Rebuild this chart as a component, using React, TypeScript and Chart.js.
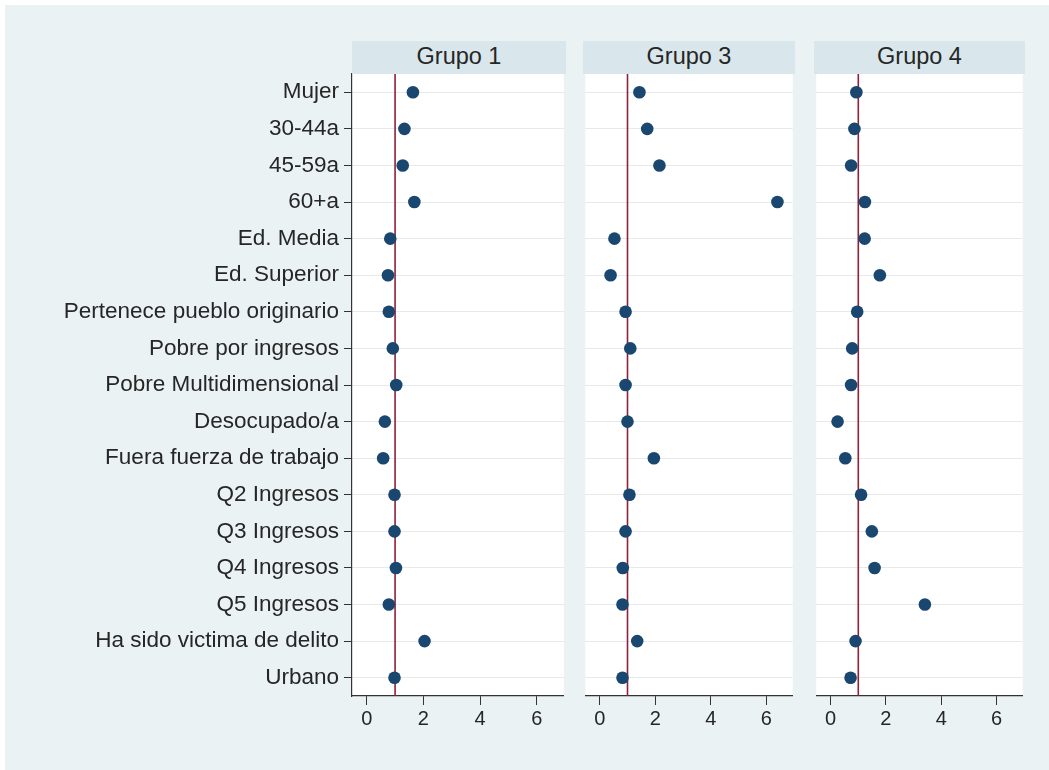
import React, { useEffect, useRef } from "react";
import { Chart, registerables } from "chart.js";

Chart.register(...registerables);

const categories = [
  "Mujer",
  "30-44a",
  "45-59a",
  "60+a",
  "Ed. Media",
  "Ed. Superior",
  "Pertenece pueblo originario",
  "Pobre por ingresos",
  "Pobre Multidimensional",
  "Desocupado/a",
  "Fuera fuerza de trabajo",
  "Q2 Ingresos",
  "Q3 Ingresos",
  "Q4 Ingresos",
  "Q5 Ingresos",
  "Ha sido victima de delito",
  "Urbano",
];

const panelTitles = ["Grupo 1", "Grupo 3", "Grupo 4"];

const grupo1 = [1.63, 1.33, 1.27, 1.68, 0.83, 0.75, 0.78, 0.92, 1.04, 0.64, 0.58, 0.98, 0.98, 1.03, 0.78, 2.04, 0.98];
const grupo3 = [1.43, 1.71, 2.15, 6.4, 0.53, 0.39, 0.93, 1.1, 0.93, 1.0, 1.95, 1.07, 0.93, 0.83, 0.82, 1.35, 0.82];
const grupo4 = [0.93, 0.86, 0.74, 1.24, 1.23, 1.78, 0.96, 0.78, 0.74, 0.25, 0.53, 1.1, 1.49, 1.59, 3.41, 0.9, 0.72];

const xTicks = [0, 2, 4, 6];
const referenceValue = 1;

const FONT = "'Liberation Sans', Arial, Helvetica, sans-serif";
const BG = "#EAF2F3";
const STRIP = "#D9E6EB";
const DOT = "#1A476F";
const REF = "#8E2138";
const TEXT = "#262626";
const AXIS = "#333333";

const whiteArea = {
  id: "whiteArea",
  beforeDraw(chart: any) {
    const { ctx, chartArea } = chart;
    ctx.save();
    ctx.fillStyle = "#ffffff";
    ctx.fillRect(chartArea.left, chartArea.top, chartArea.right - chartArea.left, chartArea.bottom - chartArea.top);
    ctx.restore();
  },
};

type PanelProps = {
  values: number[];
  title: string;
  showLabels: boolean;
  left: number;
  width: number;
  axisWidth: number;
  padLeft: number;
};

const CANVAS_TOP = 60;
const CANVAS_H = 700;
const PAD_TOP = 14;
const XAXIS_H = 64;

function Panel({ values, title, showLabels, left, width, axisWidth, padLeft }: PanelProps) {
  const ref = useRef<HTMLCanvasElement | null>(null);
  useEffect(() => {
    if (!ref.current) return;
    const chart = new Chart(ref.current, {
      type: "scatter",
      data: {
        datasets: [
          {
            data: values.map((v, i) => ({ x: v, y: i })),
            backgroundColor: DOT,
            borderColor: DOT,
            borderWidth: 0,
            pointRadius: 6.3,
            pointHoverRadius: 6.3,
            order: 0,
          },
          {
            type: "line",
            data: [
              { x: referenceValue, y: -0.5 },
              { x: referenceValue, y: categories.length - 0.5 },
            ],
            borderColor: REF,
            borderWidth: 1.6,
            pointRadius: 0,
            fill: false,
            order: 1,
          } as any,
        ],
      },
      options: {
        animation: false,
        responsive: false,
        maintainAspectRatio: false,
        events: [],
        layout: { padding: { top: PAD_TOP, right: 4, left: padLeft, bottom: 0 } },
        plugins: { legend: { display: false }, tooltip: { enabled: false } },
        scales: {
          x: {
            type: "linear",
            min: -0.52,
            max: 6.95,
            afterBuildTicks: (s: any) => {
              s.ticks = xTicks.map((v) => ({ value: v }));
            },
            afterFit: (s: any) => {
              s.height = XAXIS_H;
              s.paddingLeft = 0;
              s.paddingRight = 0;
            },
            grid: { drawOnChartArea: false, drawTicks: true, tickLength: 9, tickColor: AXIS, lineWidth: 1 },
            border: { display: true, color: AXIS, width: 1.2 },
            ticks: {
              color: TEXT,
              font: { family: FONT, size: 20 },
              padding: 2,
              maxRotation: 0,
              autoSkip: false,
              callback: (v: any) => String(v),
            },
          },
          y: {
            type: "linear",
            reverse: true,
            min: -0.5,
            max: categories.length - 0.5,
            afterBuildTicks: (s: any) => {
              s.ticks = categories.map((_, i) => ({ value: i }));
            },
            afterFit: (s: any) => {
              s.width = axisWidth;
              s.paddingTop = 0;
              s.paddingBottom = 0;
            },
            grid: {
              color: "#E9E9E9",
              lineWidth: 1,
              drawTicks: showLabels,
              tickLength: 8,
              tickColor: AXIS,
            },
            border: { display: showLabels, color: AXIS, width: 1.2 },
            ticks: {
              display: showLabels,
              color: TEXT,
              font: { family: FONT, size: 22.5 },
              padding: 5,
              autoSkip: false,
              callback: (v: any) => categories[v] ?? "",
            },
          },
        },
      },
      plugins: [whiteArea],
    } as any);
    return () => chart.destroy();
  }, [values, showLabels, axisWidth, padLeft]);

  const areaLeft = left + padLeft + axisWidth;
  const areaWidth = width - padLeft - axisWidth - 4;

  return (
    <>
      <canvas
        ref={ref}
        width={width}
        height={CANVAS_H}
        style={{ position: "absolute", left, top: CANVAS_TOP, width, height: CANVAS_H }}
      />
      <div
        style={{
          position: "absolute",
          left: areaLeft,
          top: 41,
          width: areaWidth,
          height: 33,
          background: STRIP,
          color: TEXT,
          fontFamily: FONT,
          fontSize: 23.5,
          lineHeight: "31px",
          textAlign: "center",
        }}
      >
        {title}
      </div>
    </>
  );
}

export default function App() {
  return (
    <div
      style={{
        position: "absolute",
        left: 0,
        top: 0,
        width: 1049,
        height: 770,
        background: "#ffffff",
        overflow: "hidden",
      }}
    >
      <div style={{ position: "absolute", left: 5, top: 5, right: 0, bottom: 0, background: BG }} />
      <Panel values={grupo1} title={panelTitles[0]} showLabels={true} left={0} width={570} axisWidth={352} padLeft={0} />
      <Panel values={grupo3} title={panelTitles[1]} showLabels={false} left={579} width={220} axisWidth={0} padLeft={4} />
      <Panel values={grupo4} title={panelTitles[2]} showLabels={false} left={810} width={219} axisWidth={0} padLeft={4} />
    </div>
  );
}
